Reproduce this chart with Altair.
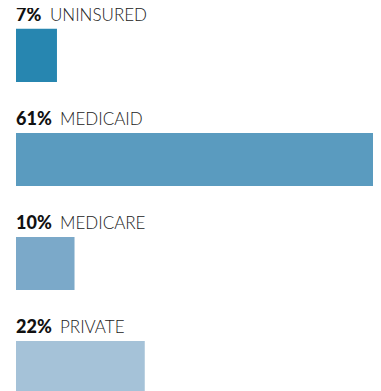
import altair as alt
import pandas as pd

categories = ["UNINSURED", "MEDICAID", "MEDICARE", "PRIVATE"]
values = [7, 61, 10, 22]
pct_labels = ["7%", "61%", "10%", "22%"]
colors = ["#2786b0", "#5a9bbf", "#7ba9c9", "#a5c2d8"]

df = pd.DataFrame({"cat": categories, "val": values, "pct": pct_labels})

yscale = alt.Scale(domain=categories, paddingInner=0.49, paddingOuter=0.2)
xscale = alt.Scale(domain=[0, 61], range=[8, 365], nice=False, zero=True)

bars = alt.Chart(df).mark_bar(clip=False).encode(
    x=alt.X("val:Q", scale=xscale, axis=None),
    y=alt.Y("cat:N", scale=yscale, axis=None, sort=categories),
    color=alt.Color("cat:N", scale=alt.Scale(domain=categories, range=colors), legend=None),
)

pct_text = alt.Chart(df).mark_text(
    align="left", baseline="alphabetic", dy=-8, font="Lato", fontSize=18,
    fontWeight=900, color="#111111"
).encode(
    x=alt.value(8),
    y=alt.Y("cat:N", scale=yscale, axis=None, sort=categories, bandPosition=0),
    text="pct:N",
)

cat_text = alt.Chart(df).transform_calculate(
    lx="22 + 10 * length(datum.pct)"
).mark_text(
    align="left", baseline="alphabetic", dy=-8, font="Lato", fontSize=17,
    fontWeight=300, color="#222222"
).encode(
    x=alt.X("lx:Q", scale=None, axis=None),
    y=alt.Y("cat:N", scale=yscale, axis=None, sort=categories, bandPosition=0),
    text="cat:N",
)

chart = alt.layer(bars, pct_text, cat_text).properties(
    width=365, height=407,
    autosize=alt.AutoSizeParams(type="none"),
    padding=0,
).configure_view(stroke=None)

chart.save("out.html", embed_options={"renderer": "svg", "actions": False})
